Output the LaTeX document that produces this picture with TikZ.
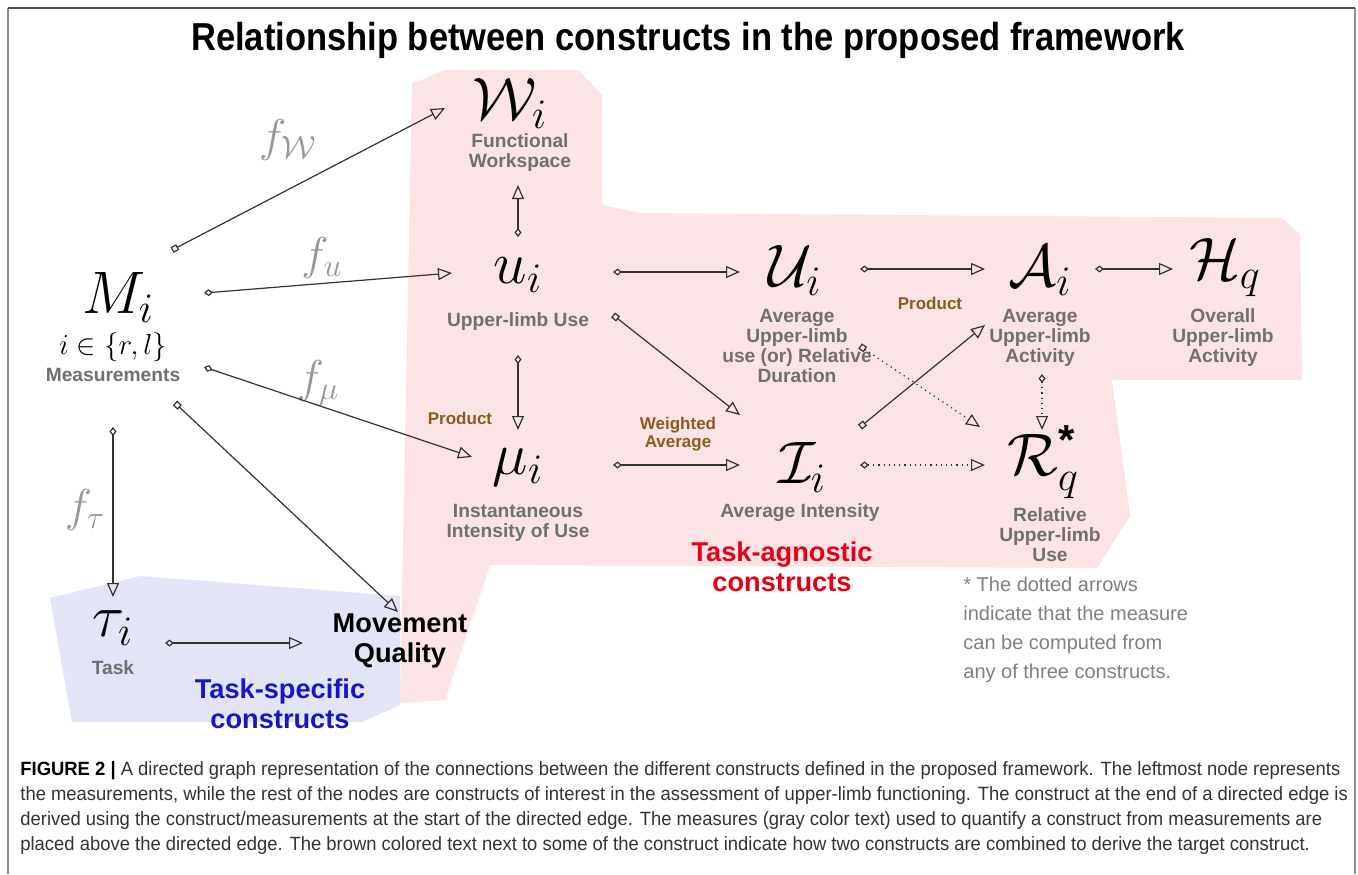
\documentclass[tikz,border=0pt]{standalone}
\usepackage{fix-cm}
\usepackage{amssymb}
\usepackage{mathtools}
\usepackage[no-math]{fontspec}
\setmainfont{Liberation Sans}
\newfontfamily\capfont[FakeStretch=0.96]{Liberation Sans}
\newfontfamily\headfont[FakeStretch=0.885]{Liberation Sans}
\usetikzlibrary{arrows.meta}

\definecolor{regpink}{RGB}{252,227,229}
\definecolor{regblue}{RGB}{228,228,247}
\definecolor{labgray}{RGB}{112,112,112}
\definecolor{fgray}{RGB}{150,150,150}
\definecolor{prodbrown}{RGB}{140,92,30}
\definecolor{agnred}{RGB}{228,0,22}
\definecolor{specblue}{RGB}{22,22,200}
\definecolor{linegray}{RGB}{50,50,50}

\tikzset{
  sym/.style={font=\fontsize{30}{32}\selectfont, inner sep=0pt},
  lab/.style={font=\bfseries\fontsize{9.6}{10}\selectfont, text=labgray, align=center, inner sep=0pt},
  meas/.style={font=\fontsize{23}{25}\selectfont, text=fgray, inner sep=0pt},
  comb/.style={font=\bfseries\fontsize{8.5}{9}\selectfont, text=prodbrown, align=center, inner sep=0pt},
  group/.style={font=\bfseries\fontsize{13.6}{15}\selectfont, align=center, inner sep=0pt},
  conn/.style={draw=linegray, line width=0.6pt, {Diamond[open,length=4.5pt,width=3.5pt]}-{Triangle[open,length=7pt,width=6pt]}},
  connsq/.style={conn, {Square[open,length=3.2pt,width=3.2pt]}-{Triangle[open,length=7pt,width=6pt]}},
  dconn/.style={conn, dotted},
  dconnsq/.style={connsq, dotted},
  capline/.style={font=\capfont\fontsize{9.6}{10}\selectfont, text=black!80, anchor=west, inner sep=0pt}
}

\begin{document}
\begin{tikzpicture}[x=0.5pt, y=-0.5pt]
\useasboundingbox (0,0) rectangle (1358,874);
\fill[white] (0,0) rectangle (1358,874);
\draw[black!45, line width=1pt] (8,874) -- (8,8);
\draw[black!45, line width=1pt] (1355,8) -- (1355,874);
\draw[black!70, line width=1pt] (8,8) -- (1355,8);

\fill[regpink] (412,84) -- (445,70) -- (578,70) -- (602,95) -- (602,205) -- (640,213) -- (1282,218) -- (1300,234)
  -- (1302,380) -- (1112,380) -- (1130,516) -- (1097,568) -- (490,565) -- (445,700) -- (400,703) -- cycle;
\fill[regblue] (50,598) -- (140,576) -- (400,596) -- (400,705) -- (362,722) -- (72,722) -- cycle;

\node[font=\headfont\bfseries\fontsize{19.5}{22}\selectfont] (title) at (688,40) {Relationship between constructs in the proposed framework};

\node[sym] (M) at (118,297) {$M_i$};
\node[font=\fontsize{14.5}{16}\selectfont, inner sep=0pt] (Mset) at (113,347) {$i\in\{r,l\}$};
\node[lab] (Mlab) at (113,375) {Measurements};

\node[sym] (W) at (510,103) {$\mathcal{W}_i$};
\node[lab] (Wlab) at (520,153) {Functional\\Workspace};
\node[sym] (u) at (518,275) {$u_i$};
\node[lab] (ulab) at (518,322) {Upper-limb Use};
\node[sym] (mu) at (518,467) {$\mu_i$};
\node[lab] (mulab) at (518,523) {Instantaneous\\Intensity of Use};
\node[sym] (U) at (795,270) {$\mathcal{U}_i$};
\node[lab] (Ulab) at (797,346) {Average\\Upper-limb\\use (or) Relative\\Duration};
\node[sym] (I) at (802,467) {$\mathcal{I}_i$};
\node[lab] (Ilab) at (800,513) {Average Intensity};
\node[sym] (A) at (1040,270) {$\mathcal{A}_i$};
\node[lab] (Alab) at (1040,338) {Average\\Upper-limb\\Activity};
\node[sym] (H) at (1225,268) {$\mathcal{H}_q$};
\node[lab] (Hlab) at (1223,338) {Overall\\Upper-limb\\Activity};
\node[sym] (R) at (1043,462) {$\mathcal{R}_q^{\text{\bfseries *}}$};
\node[lab] (Rlab) at (1050,535) {Relative\\Upper-limb\\Use};
\node[sym] (tau) at (113,628) {$\tau_i$};
\node[lab] (taulab) at (113,668) {Task};
\node[group] (MQ) at (400,641) {Movement\\Quality};

\node[meas] (fW) at (288,140) {$f_{\mathcal{W}}$};
\node[meas] (fu) at (322,258) {$f_{u}$};
\node[meas] (fmu) at (318,383) {$f_{\mu}$};
\node[meas] (ftau) at (85,510) {$f_{\tau}$};

\node[comb] (prod1) at (460,418) {Product};
\node[comb] (wavg) at (678,434) {Weighted\\Average};
\node[comb] (prod2) at (930,303) {Product};

\node[group, text=agnred] (agn) at (782,567) {Task-agnostic\\constructs};
\node[group, text=specblue] (spec) at (280,704) {Task-specific\\constructs};
\node[font=\fontsize{10}{14.5}\selectfont, text=black!50, align=left, anchor=north west, inner sep=0pt] (note) at (963,577)
  {* The dotted arrows\\indicate that the measure\\can be computed from\\any of three constructs.};

\draw[connsq] ([shift={(54,-47)}]M.center) -- ([shift={(-65,5)}]W.center);
\draw[conn] ([shift={(86,-4)}]M.center) -- ([shift={(-66,-2)}]u.center);
\draw[conn] ([shift={(86,70)}]M.center) -- ([shift={(-46,-10)}]mu.center);
\draw[connsq] ([shift={(57,106)}]M.center) -- ([shift={(-2,-29)}]MQ.center);
\draw[conn] ([shift={(-5,130)}]M.center) -- ([shift={(0,-31)}]tau.center);
\draw[conn] ([shift={(52,15)}]tau.center) -- ([shift={(-97,2)}]MQ.center);
\draw[conn] ([shift={(0,-38)}]u.center) -- ([shift={(8,82)}]W.center);
\draw[conn] ([shift={(0,80)}]u.center) -- ([shift={(0,-37)}]mu.center);
\draw[conn] ([shift={(95,-3)}]u.center) -- ([shift={(-55,2)}]U.center);
\draw[connsq] ([shift={(95,40)}]u.center) -- ([shift={(-62,-52)}]I.center);
\draw[conn] ([shift={(95,-2)}]mu.center) -- ([shift={(-62,-2)}]I.center);
\draw[conn] ([shift={(65,-1)}]U.center) -- ([shift={(-55,-1)}]A.center);
\draw[conn] ([shift={(55,-1)}]A.center) -- ([shift={(-52,1)}]H.center);
\draw[connsq] ([shift={(58,-40)}]I.center) -- ([shift={(-55,55)}]A.center);
\draw[dconnsq] ([shift={(65,76)}]U.center) -- ([shift={(-63,-35)}]R.center);
\draw[dconn] ([shift={(2,104)}]A.center) -- ([shift={(-1,-32)}]R.center);
\draw[dconn] ([shift={(58,-2)}]I.center) -- ([shift={(-58,3)}]R.center);

\foreach \t [count=\k] in {
  {\textbf{\color{black}FIGURE 2 |} A directed graph representation of the connections between the different constructs defined in the proposed framework. The leftmost node represents},
  {the measurements, while the rest of the nodes are constructs of interest in the assessment of upper-limb functioning. The construct at the end of a directed edge is},
  {derived using the construct/measurements at the start of the directed edge. The measures (gray color text) used to quantify a construct from measurements are},
  {placed above the directed edge. The brown colored text next to some of the construct indicate how two constructs are combined to derive the target construct.}}
  \node[capline] (cap\k) at (20,{746+25*\k}) {\t};
\end{tikzpicture}
\end{document}
